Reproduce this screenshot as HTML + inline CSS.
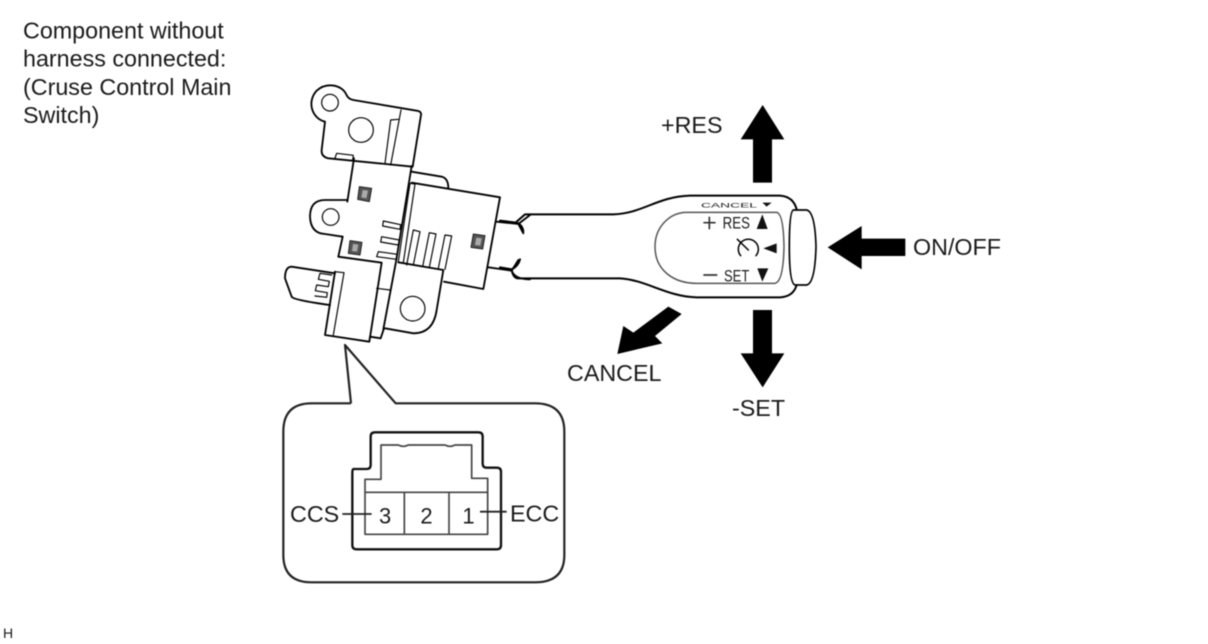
<!DOCTYPE html>
<html><head><meta charset="utf-8"><style>
html,body{margin:0;padding:0;background:#fff;width:1208px;height:644px;overflow:hidden}
svg{display:block;filter:blur(0.5px)}
text{font-family:"Liberation Sans",sans-serif;fill:#1a1a1a}
.t{font-size:23.3px}
</style></head><body>
<svg width="1208" height="644" viewBox="0 0 1208 644" xmlns="http://www.w3.org/2000/svg">
<text class="t" x="23" y="38.500">Component without</text>
<text class="t" x="23" y="66.500">harness connected:</text>
<text class="t" x="23" y="95">(Cruse Control Main</text>
<text class="t" x="23" y="123">Switch)</text>
<text x="3" y="638" style="font-size:14px">H</text>
<text class="t" x="661" y="133">+RES</text>
<text class="t" x="913" y="255">ON/OFF</text>
<text class="t" x="567" y="381">CANCEL</text>
<text class="t" x="732" y="416">-SET</text>

<g transform="translate(270,70) scale(.33333)" fill="none" stroke="#000" stroke-width="5.500" stroke-linejoin="round" stroke-linecap="round">
<path d="M428,290 L453,135 Q455,124 440,122 L250,90 Q235,88 228,72 C215,45 170,35 140,62 C110,95 125,145 165,155 L155,240 Q153,260 175,265 L428,290"/>
<circle cx="180" cy="98" r="25" stroke-width="3.500"/>
<circle cx="273" cy="180" r="37" stroke-width="3.500"/>
<g stroke-width="3.500">
<path d="M393,120 L362,285 M362,150 L345,280 M385,148 L362,150"/>
<path d="M200,250 L250,256 L248,270 M200,250 L195,264"/>
<path d="M420,340 L385,575 M435,342 L400,578 M420,340 L435,342"/>
<path d="M340,453 L392,464 L390,478 L338,468 Z M335,500 L388,510 L385,525 L332,516 Z M325,545 L382,553 L380,568 L320,560 Z"/>
<path d="M430,480 L410,585 M450,485 L430,585 M430,480 L450,485 M478,488 L458,590 M498,492 L478,592 M478,488 L498,492 M525,495 L505,595 M545,498 L525,598 M525,495 L545,498"/>
</g>
<path d="M252,265 L232,395 M218,500 L205,560"/>
<path d="M425,288 L378,575 L340,778"/>
<path d="M232,390 H165 Q120,390 120,440 Q122,490 165,492 L218,500"/>
<circle cx="182" cy="441" r="25" stroke-width="3.500"/>
<path d="M425,305 L515,320 Q535,325 535,355 M425,338 L690,382 L640,657 L522,635 M680,455 L745,462 M655,592 L725,602 M745,462 L780,435 M745,462 L760,490 M725,602 L745,570 M725,602 Q735,628 780,628"/>
<path d="M385,577 L520,600 L500,720 Q490,790 430,790 L345,775"/>
<circle cx="428" cy="716" r="37" stroke-width="3.500"/>
<path d="M205,560 L335,578 L298,815 L165,795 L195,605 M298,815 L300,800 L332,805 L342,775"/>
<path d="M195,605 L222,608 L190,795 M320,655 L360,660" stroke-width="3.500"/>
<path d="M195,610 L65,590 Q45,590 45,625 L65,680 Q70,690 180,705"/>
<path d="M185,615 L150,610 L145,628 L178,634 L175,650 L140,645 L136,662 L172,668 L170,682 L135,678" stroke-width="3.500"/>
<g fill="#555" stroke="#222" stroke-width="3">
<path d="M268,350 L305,355 L298,395 L263,388 Z"/>
<path d="M240,512 L276,517 L270,555 L235,550 Z"/>
<path d="M610,492 L645,497 L638,537 L603,532 Z"/>
</g>
<g fill="#aaa" stroke="none">
<path d="M278,360 L294,362 L289,385 L274,382 Z"/>
<path d="M249,522 L265,524 L261,545 L246,543 Z"/>
<path d="M619,503 L635,505 L631,527 L615,525 Z"/>
</g>
</g>

<g transform="translate(500,180) scale(.33333)" fill="none" stroke="#000" stroke-linejoin="round" stroke-linecap="round">
<path stroke-width="6" d="M50,125 L75,103 H340 C430,100 470,50 570,47 H840 Q880,50 890,88"/>
<path stroke-width="6" d="M0,122 L50,128 Q68,135 70,155 M0,262 L35,268 Q55,258 60,238 M35,270 Q40,295 55,295 H360 C440,300 500,350 590,352 H840 Q880,350 890,315"/>
<path stroke-width="5" d="M880,90 H920 Q945,95 948,200 Q945,310 920,315 H885 Q868,310 868,200 Q868,95 880,90"/>
<path stroke-width="4.500" stroke="#555" d="M560,97 H830 Q850,100 852,200 Q850,305 825,310 H590 C520,310 465,270 465,200 C465,140 510,97 560,97"/>
<path stroke-width="4.500" d="M712,178 L745,210 M722,227 A30,30 0 1 1 768,227"/>
<path stroke-width="5" stroke="#333" d="M612,128 H645 M628,112 V146 M612,285 H650"/>
<g fill="#111" stroke="none">
<polygon points="787,103 803,147 770,147"/>
<polygon points="787,305 772,265 805,265"/>
<polygon points="790,205 830,190 830,220"/>
<polygon points="800,80 787,68 815,68"/>
</g>
<text x="668" y="146" stroke="none" style="font-size:50px" textLength="82" lengthAdjust="spacingAndGlyphs">RES</text>
<text x="672" y="304" stroke="none" style="font-size:50px" textLength="76" lengthAdjust="spacingAndGlyphs">SET</text>
<text x="603" y="82" stroke="none" style="font-size:20px" textLength="168" lengthAdjust="spacingAndGlyphs">CANCEL</text>
</g>

<g transform="translate(600,90) scale(.33333)" fill="#000">
<polygon points="488,45 553,148 516,148 516,278 459,278 459,148 422,148"/>
<polygon points="459,660 516,660 516,790 553,790 488,892 422,790 459,790"/>
<polygon points="683,472 785,408 785,446 916,446 916,498 785,498 785,538"/>
<polygon points="205,650 245,672 165,738 187,760 52,792 70,708 100,728"/>
</g>

<g transform="translate(275,395) scale(.33333)" fill="none" stroke="#222" stroke-linejoin="round">
<path stroke-width="6.500" d="M228,25 L210,-150 L362,25 H780 Q868,25 868,110 V480 Q868,562 780,562 H110 Q25,562 25,480 V110 Q25,25 110,25 H228"/>
<path stroke-width="7" stroke="#111" d="M235,222 H275 Q287,222 287,210 V125 Q287,112 300,112 H610 Q623,112 623,125 V205 Q623,218 635,218 H665 Q678,218 678,230 V450 Q678,463 665,463 H245 Q232,463 232,450 V235 Q232,222 235,222 Z"/>
<path stroke-width="5" stroke="#444" d="M270,290 V253 H318 V150 H370 Q385,158 400,150 H510 Q525,158 540,150 H590 V250 H638 V418 H270 Z M270,292 H638 M388,292 V418 M522,292 V418"/>
<path stroke-width="5.500" stroke="#222" d="M202,357 H290 M615,350 H695"/>
<g stroke="none">
<text x="45" y="381" style="font-size:70px">CCS</text>
<text x="705" y="379" style="font-size:70px">ECC</text>
<text x="312" y="385" style="font-size:66px">3</text>
<text x="436" y="385" style="font-size:66px">2</text>
<text x="562" y="385" style="font-size:66px">1</text>
</g>
</g>
</svg>
</body></html>
